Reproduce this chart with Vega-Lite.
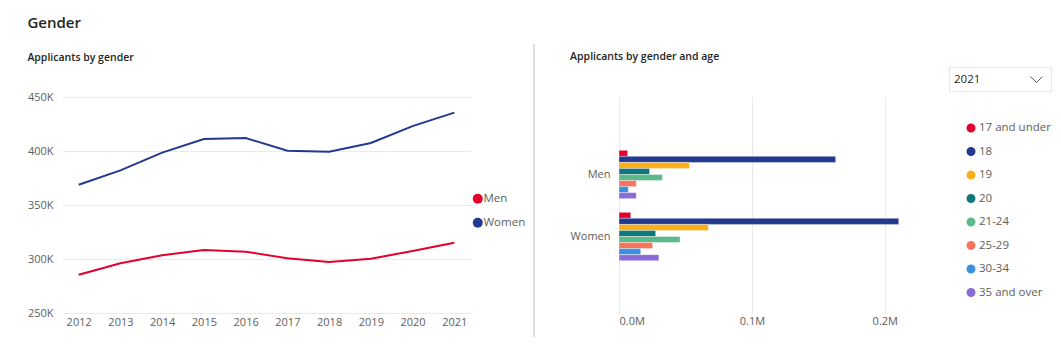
{
  "$schema": "https://vega.github.io/schema/vega-lite/v6.json",
  "background": "white",
  "padding": {"left": 27, "top": 15, "right": 5, "bottom": 5},
  "title": {"text": "Gender", "anchor": "start", "fontSize": 15, "fontWeight": 600, "font": "Open Sans", "color": "#252423", "offset": 13},
  "config": {
    "font": "Open Sans",
    "view": {"stroke": null},
    "axis": {"labelFont": "Open Sans", "labelColor": "#605E5C", "labelFontSize": 11, "ticks": false, "domain": false, "gridColor": "#EAEAEA", "title": null},
    "legend": {"labelFont": "Open Sans", "labelColor": "#605E5C", "labelFontSize": 11.5},
    "title": {"font": "Open Sans"}
  },
  "resolve": {"scale": {"color": "independent", "shape": "independent"}, "legend": {"color": "independent", "shape": "independent"}},
  "datasets": {
    "trend": [
      {"year": 2012, "gender": "Men", "applicants": 285500},
      {"year": 2013, "gender": "Men", "applicants": 296000},
      {"year": 2014, "gender": "Men", "applicants": 303500},
      {"year": 2015, "gender": "Men", "applicants": 308300},
      {"year": 2016, "gender": "Men", "applicants": 306800},
      {"year": 2017, "gender": "Men", "applicants": 300600},
      {"year": 2018, "gender": "Men", "applicants": 297200},
      {"year": 2019, "gender": "Men", "applicants": 300300},
      {"year": 2020, "gender": "Men", "applicants": 307400},
      {"year": 2021, "gender": "Men", "applicants": 315100},
      {"year": 2012, "gender": "Women", "applicants": 368800},
      {"year": 2013, "gender": "Women", "applicants": 382000},
      {"year": 2014, "gender": "Women", "applicants": 398500},
      {"year": 2015, "gender": "Women", "applicants": 411000},
      {"year": 2016, "gender": "Women", "applicants": 412000},
      {"year": 2017, "gender": "Women", "applicants": 400300},
      {"year": 2018, "gender": "Women", "applicants": 399400},
      {"year": 2019, "gender": "Women", "applicants": 407400},
      {"year": 2020, "gender": "Women", "applicants": 423000},
      {"year": 2021, "gender": "Women", "applicants": 435500}
    ],
    "age": [
      {"year": "2021", "gender": "Men", "age": "17 and under", "applicants": 6500},
      {"year": "2021", "gender": "Men", "age": "18", "applicants": 163000},
      {"year": "2021", "gender": "Men", "age": "19", "applicants": 53000},
      {"year": "2021", "gender": "Men", "age": "20", "applicants": 23000},
      {"year": "2021", "gender": "Men", "age": "21-24", "applicants": 32600},
      {"year": "2021", "gender": "Men", "age": "25-29", "applicants": 13000},
      {"year": "2021", "gender": "Men", "age": "30-34", "applicants": 7000},
      {"year": "2021", "gender": "Men", "age": "35 and over", "applicants": 13000},
      {"year": "2021", "gender": "Women", "age": "17 and under", "applicants": 8800},
      {"year": "2021", "gender": "Women", "age": "18", "applicants": 210500},
      {"year": "2021", "gender": "Women", "age": "19", "applicants": 67200},
      {"year": "2021", "gender": "Women", "age": "20", "applicants": 27600},
      {"year": "2021", "gender": "Women", "age": "21-24", "applicants": 45900},
      {"year": "2021", "gender": "Women", "age": "25-29", "applicants": 25300},
      {"year": "2021", "gender": "Women", "age": "30-34", "applicants": 16300},
      {"year": "2021", "gender": "Women", "age": "35 and over", "applicants": 30000}
    ],
    "sep": [{"start": 0, "end": 1}]
  },
  "spacing": 7,
  "hconcat": [
    {
      "width": 409,
      "height": 216,
      "title": {"text": "Applicants by gender", "anchor": "start", "fontSize": 10.5, "fontWeight": 600, "color": "#252423", "offset": 28},
      "data": {"name": "trend"},
      "mark": {"type": "line", "strokeWidth": 2},
      "encoding": {
        "x": {"field": "year", "type": "ordinal", "scale": {"type": "point", "padding": 0.4}, "axis": {"labelAngle": 0, "labelPadding": 3, "grid": false}},
        "y": {"field": "applicants", "type": "quantitative", "scale": {"domain": [250000, 450000]}, "axis": {"values": [250000, 300000, 350000, 400000, 450000], "labelExpr": "datum.value / 1000 + 'K'", "labelPadding": 9, "grid": true}},
        "color": {"field": "gender", "type": "nominal", "scale": {"domain": ["Men", "Women"], "range": ["#E3002D", "#23388F"]},
          "legend": {"title": null, "orient": "none", "legendX": 410, "legendY": 96, "symbolType": "circle", "symbolSize": 100, "rowPadding": 11, "labelOffset": 0,
            "encode": {"symbols": {"update": {"fill": {"signal": "datum.value === 'Men' ? '#E3002D' : '#23388F'"}, "fillOpacity": {"value": 1}, "strokeWidth": {"value": 0}}}}}}
      }
    },
    {
      "spacing": 35,
      "hconcat": [
        {
          "width": 2,
          "height": 216,
          "data": {"name": "sep"},
          "mark": {"type": "rect", "color": "#DDDDDD"},
          "encoding": {
            "y": {"field": "start", "type": "quantitative", "scale": {"domain": [0.0819, 0.8191]}, "axis": null},
            "y2": {"field": "end"}
          }
        },
        {
          "width": 299,
          "height": 217,
          "title": {"text": "Applicants by gender and age", "anchor": "start", "fontSize": 10.5, "fontWeight": 600, "color": "#252423", "offset": 35},
          "data": {"name": "age"},
          "layer": [
            {
              "mark": {"type": "bar", "stroke": "white", "strokeWidth": 0.6, "strokeOpacity": 0.6},
              "encoding": {
                "x": {"field": "applicants", "type": "quantitative", "scale": {"domain": [0, 225000]}, "axis": {"values": [0, 100000, 200000], "labelExpr": "format(datum.value / 1000000, '.1f') + 'M'", "grid": true, "labelPadding": 1}},
                "y": {"field": "gender", "type": "nominal", "scale": {"domain": ["Men", "Women"], "paddingInner": 0.22, "paddingOuter": 0.86}, "axis": {"labelPadding": 9, "grid": false}},
                "yOffset": {"field": "age", "type": "nominal", "scale": {"domain": ["17 and under", "18", "19", "20", "21-24", "25-29", "30-34", "35 and over"], "paddingInner": 0, "paddingOuter": 0}},
                "color": {"field": "age", "type": "nominal",
                  "scale": {"domain": ["17 and under", "18", "19", "20", "21-24", "25-29", "30-34", "35 and over"], "range": ["#E3002D", "#23388F", "#FAAE19", "#12777D", "#5CB98A", "#F8745E", "#3B8EDC", "#8A6BD8"]},
                  "legend": {"title": null, "orient": "none", "legendX": 432, "legendY": 25, "symbolType": "circle", "symbolSize": 110, "rowPadding": 5.5, "labelOffset": 2}}
              }
            },
            {
              "mark": {"type": "point", "opacity": 0, "filled": false},
              "encoding": {
                "shape": {"field": "year", "type": "nominal", "scale": {"range": ["M-1,-0.5L0,0.5L1,-0.5"]},
                  "legend": {"title": null, "orient": "none", "legendX": 416, "legendY": -30, "strokeColor": "#E6E6E6", "fillColor": "white", "padding": 6, "symbolSize": 144, "symbolStrokeColor": "#605E5C", "symbolStrokeWidth": 1, "symbolFillColor": "transparent", "symbolOpacity": 1, "symbolOffset": 75, "labelOffset": -89, "labelColor": "#252423", "labelFontSize": 11.5}}
              }
            }
          ]
        }
      ]
    }
  ]
}
